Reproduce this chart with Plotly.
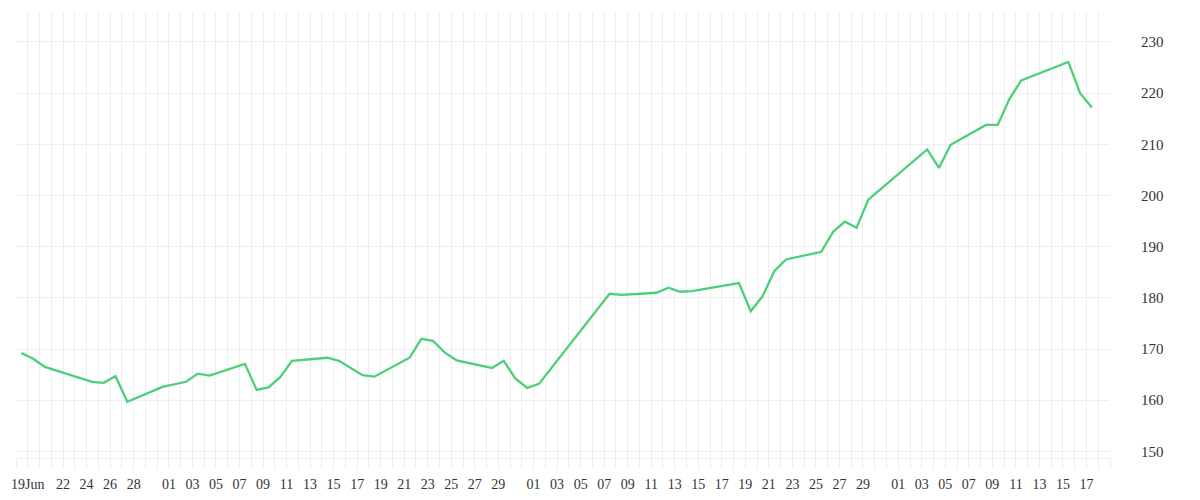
import pandas as pd
import plotly.graph_objects as go

# ---- data ----
dates = [
    "2025-06-18", "2025-06-19", "2025-06-20", "2025-06-24", "2025-06-25", "2025-06-26",
    "2025-06-27", "2025-06-30", "2025-07-02", "2025-07-03", "2025-07-04", "2025-07-07",
    "2025-07-08", "2025-07-09", "2025-07-10", "2025-07-11", "2025-07-14", "2025-07-15",
    "2025-07-17", "2025-07-18", "2025-07-21", "2025-07-22", "2025-07-23", "2025-07-24",
    "2025-07-25", "2025-07-28", "2025-07-29", "2025-07-30", "2025-07-31", "2025-08-01",
    "2025-08-07", "2025-08-08", "2025-08-11", "2025-08-12", "2025-08-13", "2025-08-14",
    "2025-08-18", "2025-08-19", "2025-08-20", "2025-08-21", "2025-08-22", "2025-08-25",
    "2025-08-26", "2025-08-27", "2025-08-28", "2025-08-29", "2025-09-03", "2025-09-04",
    "2025-09-05", "2025-09-08", "2025-09-09", "2025-09-10", "2025-09-11", "2025-09-15",
    "2025-09-16", "2025-09-17",
]
values = [
    169.2, 168.1, 166.5, 163.6, 163.4, 164.7,
    159.7, 162.6, 163.6, 165.2, 164.8, 167.1,
    162.0, 162.5, 164.5, 167.7, 168.3, 167.7,
    164.9, 164.6, 168.3, 172.0, 171.6, 169.3,
    167.8, 166.3, 167.7, 164.2, 162.4, 163.2,
    180.8, 180.6, 181.0, 182.0, 181.2, 181.3,
    182.9, 177.4, 180.3, 185.2, 187.5, 189.0,
    192.9, 194.9, 193.7, 199.2, 209.0, 205.4,
    209.9, 213.8, 213.8, 218.9, 222.5, 226.1,
    220.0, 217.2,
]

tick_dates = (
    ["2025-06-19", "2025-06-22", "2025-06-24", "2025-06-26", "2025-06-28"]
    + [f"2025-07-{d:02d}" for d in range(1, 30, 2)]
    + [f"2025-08-{d:02d}" for d in range(1, 30, 2)]
    + [f"2025-09-{d:02d}" for d in range(1, 18, 2)]
)
tick_text = ["19Jun"] + [d[-2:] for d in tick_dates[1:]]

y_ticks = [150, 160, 170, 180, 190, 200, 210, 220, 230]

# timestamps are displayed shifted into local time, as in the reference
x = pd.to_datetime(dates) + pd.Timedelta(hours=11)

grid = "#eeeeee"
font = "Liberation Serif"
txt = "#333333"

fig = go.Figure()
fig.add_trace(go.Scatter(
    x=x, y=values, mode="lines",
    line=dict(color="#4ccf79", width=2.3),
    hoverinfo="x+y", showlegend=False,
))

# page body has an 8px margin, so the figure is sized to fit inside it
fig.update_layout(
    width=1184, height=484,
    margin=dict(l=8, r=82, t=4, b=34),
    paper_bgcolor="white", plot_bgcolor="white",
    font=dict(family=font, color=txt),
    xaxis=dict(
        type="date", automargin=False,
        range=["2025-06-18", "2025-09-19"],
        tickvals=tick_dates, ticktext=tick_text,
        tickfont=dict(family=font, size=14, color=txt),
        showgrid=True, gridcolor=grid, gridwidth=1,
        ticks="outside", ticklen=10, tickcolor=grid, tickwidth=1,
        ticklabelstandoff=3,
        minor=dict(dtick=86400000, tick0="2025-06-18", showgrid=True,
                   gridcolor=grid, gridwidth=1,
                   ticks="outside", ticklen=10, tickcolor=grid, tickwidth=1),
        showline=True, linecolor=grid, linewidth=1,
        zeroline=False, fixedrange=True,
    ),
    yaxis=dict(
        side="right", automargin=False,
        range=[148.71, 235.86],
        tickvals=y_ticks,
        tickfont=dict(family=font, size=15, color=txt),
        showgrid=True, gridcolor=grid, gridwidth=1,
        ticks="", ticklabelstandoff=30,
        showline=False, zeroline=False, fixedrange=True,
    ),
)

fig.write_html("out.html", config={"displayModeBar": False})
